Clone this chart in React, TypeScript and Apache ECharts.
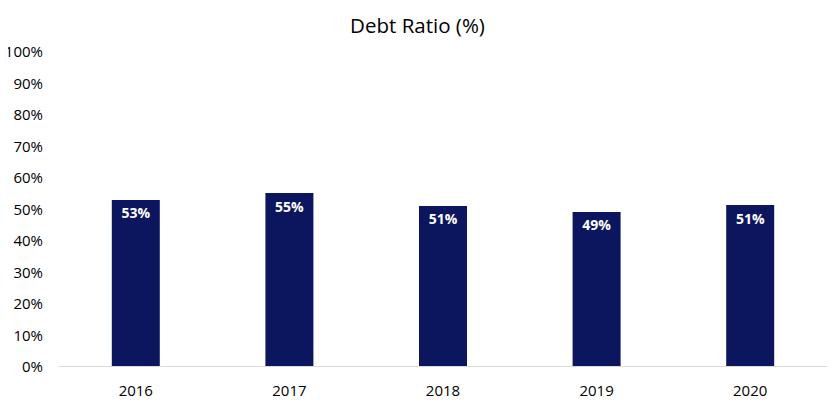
import React, { useEffect, useRef } from "react";
import * as echarts from "echarts";

const categories = ["2016", "2017", "2018", "2019", "2020"];
const debtRatio = [52.7, 54.9, 50.8, 48.9, 51.1];
const yTicks = [0, 10, 20, 30, 40, 50, 60, 70, 80, 90, 100];

export default function App() {
  const ref = useRef<HTMLDivElement>(null);
  useEffect(() => {
    const chart = echarts.init(ref.current!, null, { renderer: "svg" });
    const font = "'Open Sans', 'Liberation Sans', sans-serif";
    chart.setOption({
      animation: false,
      title: {
        text: "Debt Ratio (%)",
        left: "center",
        top: 9,
        textStyle: { fontFamily: font, fontSize: 20.5, fontWeight: "normal", color: "#000" },
      },
      grid: { left: 59, right: 8, top: 51, bottom: 38 },
      xAxis: {
        type: "category",
        data: categories,
        axisLine: { lineStyle: { color: "#d9d9d9", width: 1 } },
        axisTick: { show: false },
        axisLabel: { fontFamily: font, fontSize: 15, color: "#000", margin: 16 },
      },
      yAxis: {
        type: "value",
        min: yTicks[0],
        max: yTicks[yTicks.length - 1],
        interval: 10,
        splitLine: { show: false },
        axisLine: { show: false },
        axisTick: { show: false },
        axisLabel: {
          fontFamily: font,
          fontSize: 15,
          color: "#000",
          margin: 16,
          formatter: (v: number) => v + "%",
        },
      },
      series: [
        {
          type: "bar",
          data: debtRatio,
          barWidth: 48,
          itemStyle: { color: "#0b165e" },
          label: {
            show: true,
            position: "insideTop",
            distance: 6,
            color: "#fff",
            fontFamily: font,
            fontWeight: "bold",
            fontSize: 14,
            formatter: (p: any) => Math.round(p.value) + "%",
          },
        },
      ],
    });
    return () => chart.dispose();
  }, []);
  return <div ref={ref} style={{ width: 835, height: 404, marginLeft: -8, marginTop: -8 }} />;
}
